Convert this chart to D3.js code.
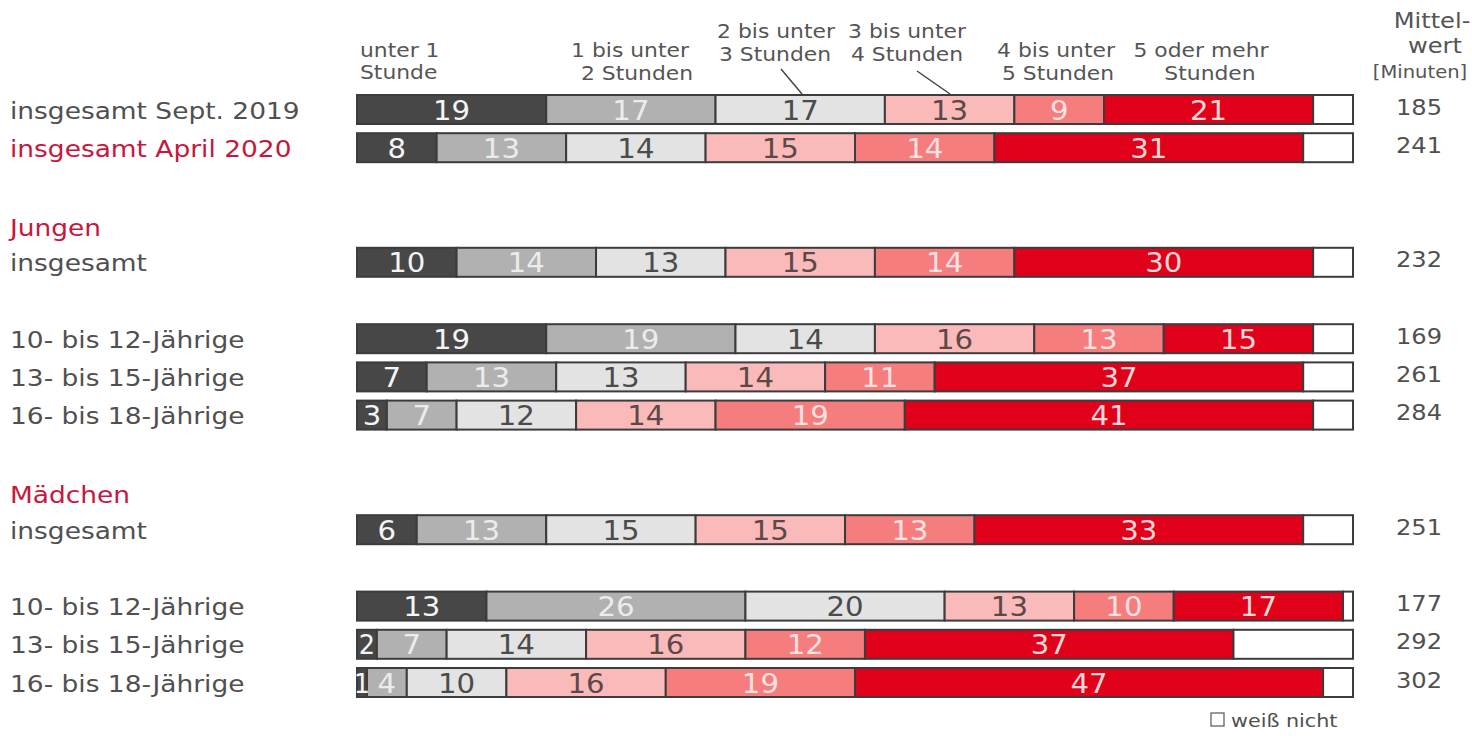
<!DOCTYPE html>
<html>
<head>
<meta charset="utf-8">
<script src="https://cdn.jsdelivr.net/npm/d3@7"></script>
<style>
  html, body { margin: 0; padding: 0; background: #ffffff; }
  svg { display: block; }
</style>
</head>
<body>
<svg id="chart" width="1472" height="736"></svg>
<script>
// ---------- data ----------
const categoryKeys = ["u1", "b2", "b3", "b4", "b5", "m5", "wn"];
const categoryLines = [
  ["unter 1", "Stunde"],
  ["1 bis unter", "2 Stunden"],
  ["2 bis unter", "3 Stunden"],
  ["3 bis unter", "4 Stunden"],
  ["4 bis unter", "5 Stunden"],
  ["5 oder mehr", "Stunden"]
];
const legendLabel = "weiß nicht";
const meanHeader = ["Mittel-", "wert", "[Minuten]"];

const rowLabels = [
  "insgesamt Sept. 2019", "insgesamt April 2020",
  "insgesamt", "10- bis 12-Jährige", "13- bis 15-Jährige", "16- bis 18-Jährige",
  "insgesamt", "10- bis 12-Jährige", "13- bis 15-Jährige", "16- bis 18-Jährige"
];
const rowGroups = ["", "", "Jungen", "Jungen", "Jungen", "Jungen", "Mädchen", "Mädchen", "Mädchen", "Mädchen"];
const highlightRows = [false, true, false, false, false, false, false, false, false, false];

const unter1 = [19, 8, 10, 19, 7, 3, 6, 13, 2, 1];
const bis2   = [17, 13, 14, 19, 13, 7, 13, 26, 7, 4];
const bis3   = [17, 14, 13, 14, 13, 12, 15, 20, 14, 10];
const bis4   = [13, 15, 15, 16, 14, 14, 15, 13, 16, 16];
const bis5   = [9, 14, 14, 13, 11, 19, 13, 10, 12, 19];
const mehr5  = [21, 31, 30, 15, 37, 41, 33, 17, 37, 47];
const weissNicht = [4, 5, 4, 4, 5, 4, 5, 1, 12, 3];
const mittelwert = [185, 241, 232, 169, 261, 284, 251, 177, 292, 302];

// ---------- styles ----------
const fillColors = ["#474747", "#b1b1b1", "#e3e3e3", "#fbbaba", "#f57d7d", "#e1001a", "#ffffff"];
const textColors = ["#f4f4f4", "#ececec", "#4b4b4b", "#5b4848", "#fde2e2", "#fbd8d8", "#4b4b4b"];
const FONT = "'DejaVu Sans', Verdana, sans-serif";
const SX = 1.15;
const textGrey = "#505050";
const textRed = "#c8173c";

const rows = rowLabels.map((label, i) => ({
  label, group: rowGroups[i], hl: highlightRows[i],
  u1: unter1[i], b2: bis2[i], b3: bis3[i], b4: bis4[i], b5: bis5[i], m5: mehr5[i], wn: weissNicht[i],
  mean: mittelwert[i]
}));

// slot layout: new group -> 2 blank slots, insgesamt/age break -> 1 blank slot
let slot = 0, prevGroup = null, prevIns = null;
rows.forEach(r => {
  const ins = r.label.startsWith("insgesamt");
  if (prevGroup === null) slot = 0;
  else if (r.group !== prevGroup) slot += 3;
  else if (ins !== prevIns) slot += 2;
  else slot += 1;
  r.slot = slot; prevGroup = r.group; prevIns = ins;
});

const svg = d3.select("#chart");
const x = d3.scaleLinear().domain([0, 100]).range([357, 1353]);
const y = d3.scaleLinear().domain([0, 15]).range([109.5, 682.5]);
const barH = 29;

function txt(g, s, tx, ty, opts) {
  return g.append("text")
    .attr("transform", `translate(${tx},${ty}) scale(${opts.sx || SX},1)`)
    .attr("text-anchor", opts.anchor || "start")
    .style("font-family", FONT)
    .style("font-size", opts.size + "px")
    .attr("fill", opts.fill || textGrey)
    .text(s);
}

// stack
const stack = d3.stack().keys(categoryKeys);
const series = stack(rows);

const barsG = svg.append("g");
series.forEach((s, k) => {
  const g = barsG.append("g");
  g.selectAll("rect").data(s).join("rect")
    .attr("x", d => x(d[0]))
    .attr("y", d => y(d.data.slot) - barH / 2)
    .attr("width", d => x(d[1]) - x(d[0]))
    .attr("height", barH)
    .attr("fill", fillColors[k])
    .attr("stroke", "#3c3c3c")
    .attr("stroke-width", 2);
});
// value labels (not for "weiß nicht")
series.forEach((s, k) => {
  if (categoryKeys[k] === "wn") return;
  s.forEach(d => {
    const v = d[1] - d[0];
    txt(barsG, String(v), (x(d[0]) + x(d[1])) / 2, y(d.data.slot) + 10, { size: 27, anchor: "middle", fill: textColors[k], sx: v < 3 ? 0.95 : 1.08 });
  });
});

// row labels
rows.forEach(r => {
  txt(svg, r.label, 10, y(r.slot) + 9, { size: 23, fill: r.hl ? textRed : textGrey });
  txt(svg, String(r.mean), 1419, y(r.slot) + 5, { size: 21, anchor: "middle", fill: textGrey });
});
// group headers
const seen = new Set();
rows.forEach(r => {
  if (r.group && !seen.has(r.group)) {
    seen.add(r.group);
    txt(svg, r.group, 10, y(r.slot) - 26.5, { size: 23, fill: textRed });
  }
});

// category headers
const headG = svg.append("g");
const headPos = [
  { a: "start", x: [360, 360], y: [57, 79] },
  { a: "middle", x: [630, 637], y: [57, 80] },
  { a: "middle", x: [776, 775], y: [38, 61] },
  { a: "middle", x: [907, 907], y: [38, 61] },
  { a: "middle", x: [1056, 1058], y: [57, 80] },
  { a: "middle", x: [1201, 1210], y: [57, 80] }
];
categoryLines.forEach((lines, i) => {
  lines.forEach((l, j) => txt(headG, l, headPos[i].x[j], headPos[i].y[j], { size: 19, anchor: headPos[i].a, fill: "#555555" }));
});
// leader lines for categories 3 and 4
headG.append("line").attr("x1", 781).attr("y1", 69).attr("x2", 802).attr("y2", 94).attr("stroke", "#444").attr("stroke-width", 1.5);
headG.append("line").attr("x1", 917).attr("y1", 71).attr("x2", 950).attr("y2", 94).attr("stroke", "#444").attr("stroke-width", 1.5);

// mean header
txt(svg, meanHeader[0], 1432, 28, { size: 21, anchor: "middle", fill: "#555555" });
txt(svg, meanHeader[1], 1435, 53, { size: 21, anchor: "middle", fill: "#555555" });
txt(svg, meanHeader[2], 1420, 78, { size: 17, anchor: "middle", fill: "#555555" });

// legend
svg.append("rect").attr("x", 1211).attr("y", 713).attr("width", 13).attr("height", 13)
  .attr("fill", "#fff").attr("stroke", "#555").attr("stroke-width", 1.2);
txt(svg, legendLabel, 1231, 727, { size: 18, fill: "#505050" });
</script>
</body>
</html>
